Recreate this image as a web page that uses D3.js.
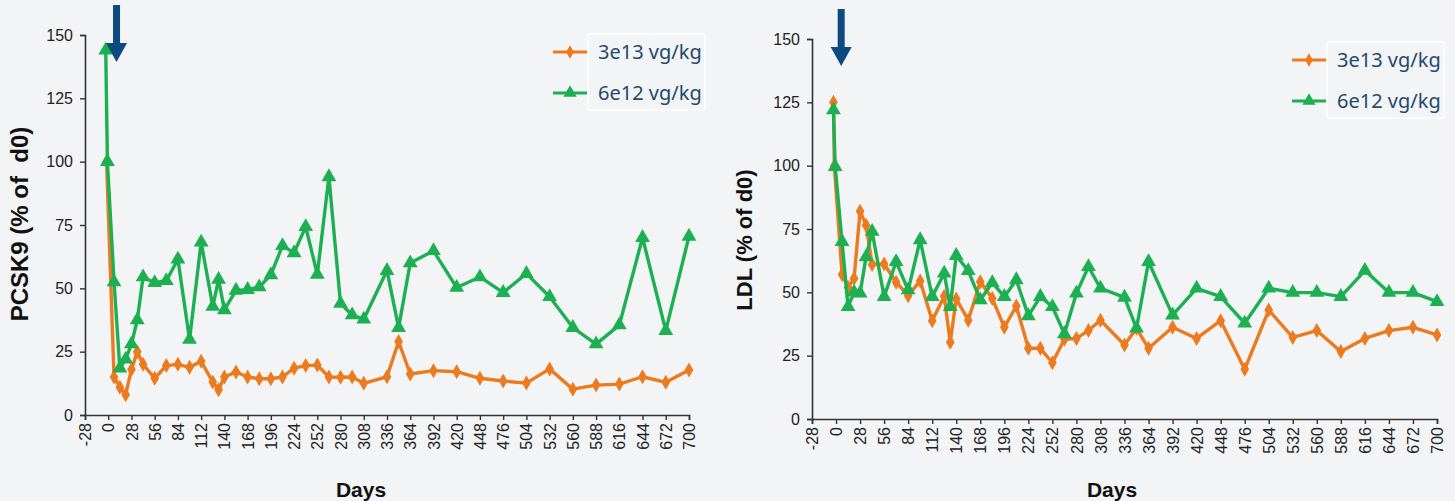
<!DOCTYPE html>
<html>
<head>
<meta charset="utf-8">
<script src="https://cdn.jsdelivr.net/npm/d3@7"></script>
<style>
  body { margin: 0; background: #f3f4f6; }
  .axis-title { font-family: "Liberation Sans", Arial, sans-serif; font-weight: bold; font-size: 21px; fill: #111; }
  .legend-text { font-family: "Noto Sans", "Open Sans", sans-serif; font-size: 20px; fill: #24496d; }
</style>
</head>
<body>
<svg></svg>
<script>
// tick values (days / percent)
const xTicks = [-28, 0, 28, 56, 84, 112, 140, 168, 196, 224, 252, 280, 308, 336, 364,
    392, 420, 448, 476, 504, 532, 560, 588, 616, 644, 672, 700];
const yTicks = [0, 25, 50, 75, 100, 125, 150];
const seriesNames = ['3e13 vg/kg', '6e12 vg/kg'];

// PCSK9, 3e13 vg/kg
const pcskHighDays = [-2, 7, 14, 21, 28, 35, 42, 56, 70, 84, 98, 112, 126, 133, 140, 154, 168, 182,
    196, 210, 224, 238, 252, 266, 280, 294, 308, 336, 350, 364, 392, 420, 448, 476, 504, 532,
    560, 588, 616, 644, 672, 700];
const pcskHighVals = [100, 15, 11, 8, 18, 25, 20, 14.5, 19.5, 20, 18.8, 21.2, 13, 10, 15, 17, 15, 14.3,
    14.3, 15, 18.5, 19.5, 19.7, 15, 14.9, 15, 12.5, 15.1, 29, 16.2, 17.5, 17.1, 14.5, 13.4, 12.6, 18.2,
    10.2, 11.8, 12.2, 15.1, 12.9, 17.8];

// PCSK9, 6e12 vg/kg
const pcskLowDays = [-3, -1, 7, 14, 21, 28, 35, 42, 56, 70, 84, 98, 112, 126, 133, 140, 154, 168, 182,
    196, 210, 224, 238, 252, 266, 280, 294, 308, 336, 350, 364, 392, 420, 448, 476, 504, 532,
    560, 588, 616, 644, 672, 700];
const pcskLowVals = [144, 100, 52.5, 18.5, 22, 28, 37.5, 54.5, 52.2, 53, 61.5, 29.8, 68.2, 42.8, 53.5, 41.5, 49.2, 49.5, 50.5,
    55.3, 66.8, 64, 74.3, 55.5, 94, 44, 39.5, 37.8, 57, 34.5, 60, 64.8, 50.3, 54.5, 48.3, 55.8, 46.7,
    34.5, 28, 35.5, 70, 33.3, 70.5];

// LDL, 3e13 vg/kg
const ldlHighDays = [-3, -2, 7, 14, 21, 28, 35, 42, 56, 70, 84, 98, 112, 126, 133, 140, 154, 168, 182,
    196, 210, 224, 238, 252, 266, 280, 294, 308, 336, 350, 364, 392, 420, 448, 476, 504, 532,
    560, 588, 616, 644, 672, 700];
const ldlHighVals = [125, 100, 57, 52, 55.5, 82, 76.5, 61, 61.2, 54, 48.7, 54.5, 38.8, 48.5, 30.3, 47.4, 39, 54.2, 47.6,
    36.2, 44.6, 27.9, 27.9, 22.2, 31.5, 31.8, 34.9, 39, 29.2, 35.8, 27.9, 36.2, 31.8, 38.8, 19.6, 43, 32.2,
    34.9, 26.6, 31.8, 34.9, 36.2, 33.2];

// LDL, 6e12 vg/kg
const ldlLowDays = [-3, -1, 7, 14, 21, 28, 35, 42, 56, 70, 84, 98, 112, 126, 133, 140, 154, 168, 182,
    196, 210, 224, 238, 252, 266, 280, 294, 308, 336, 350, 364, 392, 420, 448, 476, 504, 532,
    560, 588, 616, 644, 672, 700];
const ldlLowVals = [122, 99.6, 70, 44.3, 50, 49.6, 64, 74, 48.3, 62.1, 50.9, 70.7, 48.3, 57.5, 44.3, 64.5, 58.5, 47, 53.8,
    48.3, 54.9, 40.7, 48.3, 44.3, 33.6, 49.6, 60.1, 51.6, 48, 35.8, 62.1, 41, 51.6, 48.3, 37.8, 51.6, 49.9,
    49.9, 48.3, 58.6, 49.9, 49.9, 46.3];

const colors = ['#ec7a1e', '#1cb052'];
const symbols = [d3.symbolDiamond, d3.symbolTriangle];
const symbolSizes = [65, 95];

const svg = d3.select('svg')
    .attr('width', 1455)
    .attr('height', 501);

svg.append('rect')
    .attr('width', 1455)
    .attr('height', 501)
    .attr('fill', '#f3f4f6');

const zip = (days, vals) => days.map((d, i) => ({day: d, val: vals[i]}));

function drawPanel(p) {
    const xScale = d3.scaleLinear().domain([-28, 700]).range([p.left, p.right]);
    const yScale = d3.scaleLinear().domain([0, 150]).range([p.bottom, p.top]);
    const g = svg.append('g');

    // y axis
    const yAxis = g.append('g')
        .attr('transform', 'translate(' + p.left + ',0)')
        .call(d3.axisLeft(yScale).tickValues(yTicks).tickSize(5).tickPadding(7));
    // x axis
    const xAxis = g.append('g')
        .attr('transform', 'translate(0,' + p.bottom + ')')
        .call(d3.axisBottom(xScale).tickValues(xTicks).tickSize(5).tickFormat(d => d));
    xAxis.selectAll('text')
        .attr('transform', 'rotate(-90)')
        .attr('x', -8)
        .attr('y', 0)
        .attr('dy', '0.35em')
        .style('text-anchor', 'end');
    [xAxis, yAxis].forEach(a => {
        a.attr('font-family', '"Liberation Sans", Arial, sans-serif').attr('font-size', 16);
        a.selectAll('.tick text').attr('fill', '#222');
        a.select('.domain').attr('stroke', '#333').attr('stroke-width', 1.6);
        a.selectAll('.tick line').attr('stroke', '#333').attr('stroke-width', 1.4);
    });

    // titles
    g.append('text')
        .classed('axis-title', true)
        .attr('text-anchor', 'middle')
        .attr('x', p.daysX)
        .attr('y', 497)
        .text('Days');
    g.append('text')
        .classed('axis-title', true)
        .style('font-size', p.yTitleSize + 'px')
        .attr('text-anchor', 'middle')
        .attr('transform', 'translate(' + p.yTitleX + ',' + p.yTitleY + ') rotate(-90)')
        .text(p.yTitle);

    // series lines + markers
    const line = d3.line().x(d => xScale(d.day)).y(d => yScale(d.val));
    p.series.forEach((s, i) => {
        g.append('path')
            .datum(s)
            .attr('fill', 'none')
            .attr('stroke', colors[i])
            .attr('stroke-width', 3.4)
            .attr('stroke-linejoin', 'round')
            .attr('d', line);
        g.selectAll('.pt' + i)
            .data(s)
            .enter()
            .append('path')
            .attr('class', 'pt' + i)
            .attr('d', d3.symbol().type(symbols[i]).size(symbolSizes[i]))
            .attr('transform', d => 'translate(' + xScale(d.day) + ',' + yScale(d.val) + ')')
            .attr('fill', colors[i]);
    });

    // dosing arrow
    const ax = xScale(p.arrowDay);
    g.append('path')
        .attr('d', 'M' + (ax - 3.5) + ',' + p.arrowTop + 'H' + (ax + 3.5) + 'V' + (p.arrowTop + 38)
            + 'H' + (ax + 10.5) + 'L' + ax + ',' + (p.arrowTop + 57) + 'L' + (ax - 10.5) + ',' + (p.arrowTop + 38)
            + 'H' + (ax - 3.5) + 'Z')
        .attr('fill', '#0c4a80');

    // legend
    g.append('rect')
        .attr('x', p.legX)
        .attr('y', p.legY)
        .attr('width', 117)
        .attr('height', 76)
        .attr('fill', 'none')
        .attr('stroke', '#ffffff')
        .attr('stroke-width', 1.2);
    seriesNames.forEach((name, i) => {
        const ly = p.legY + 18 + i * 41;
        g.append('line')
            .attr('x1', p.legX - 35).attr('x2', p.legX - 1)
            .attr('y1', ly).attr('y2', ly)
            .attr('stroke', colors[i]).attr('stroke-width', 3);
        g.append('path')
            .attr('d', d3.symbol().type(symbols[i]).size(symbolSizes[i] * 0.8))
            .attr('transform', 'translate(' + (p.legX - 18) + ',' + ly + ')')
            .attr('fill', colors[i]);
        g.append('text')
            .classed('legend-text', true)
            .attr('x', p.legX + 10)
            .attr('y', ly + 7)
            .text(name);
    });
}

drawPanel({
    left: 85, right: 689, top: 35, bottom: 415,
    yTitle: 'PCSK9 (% of\u00a0\u00a0d0)', yTitleSize: 24, yTitleX: 28, yTitleY: 224, daysX: 361,
    arrowDay: 10, arrowTop: 5,
    legX: 588, legY: 34,
    series: [zip(pcskHighDays, pcskHighVals), zip(pcskLowDays, pcskLowVals)]
});

drawPanel({
    left: 812, right: 1437, top: 39, bottom: 419,
    yTitle: 'LDL (% of d0)', yTitleSize: 22, yTitleX: 752, yTitleY: 240, daysX: 1112,
    arrowDay: 6, arrowTop: 9,
    legX: 1327, legY: 42,
    series: [zip(ldlHighDays, ldlHighVals), zip(ldlLowDays, ldlLowVals)]
});
</script>
</body>
</html>
